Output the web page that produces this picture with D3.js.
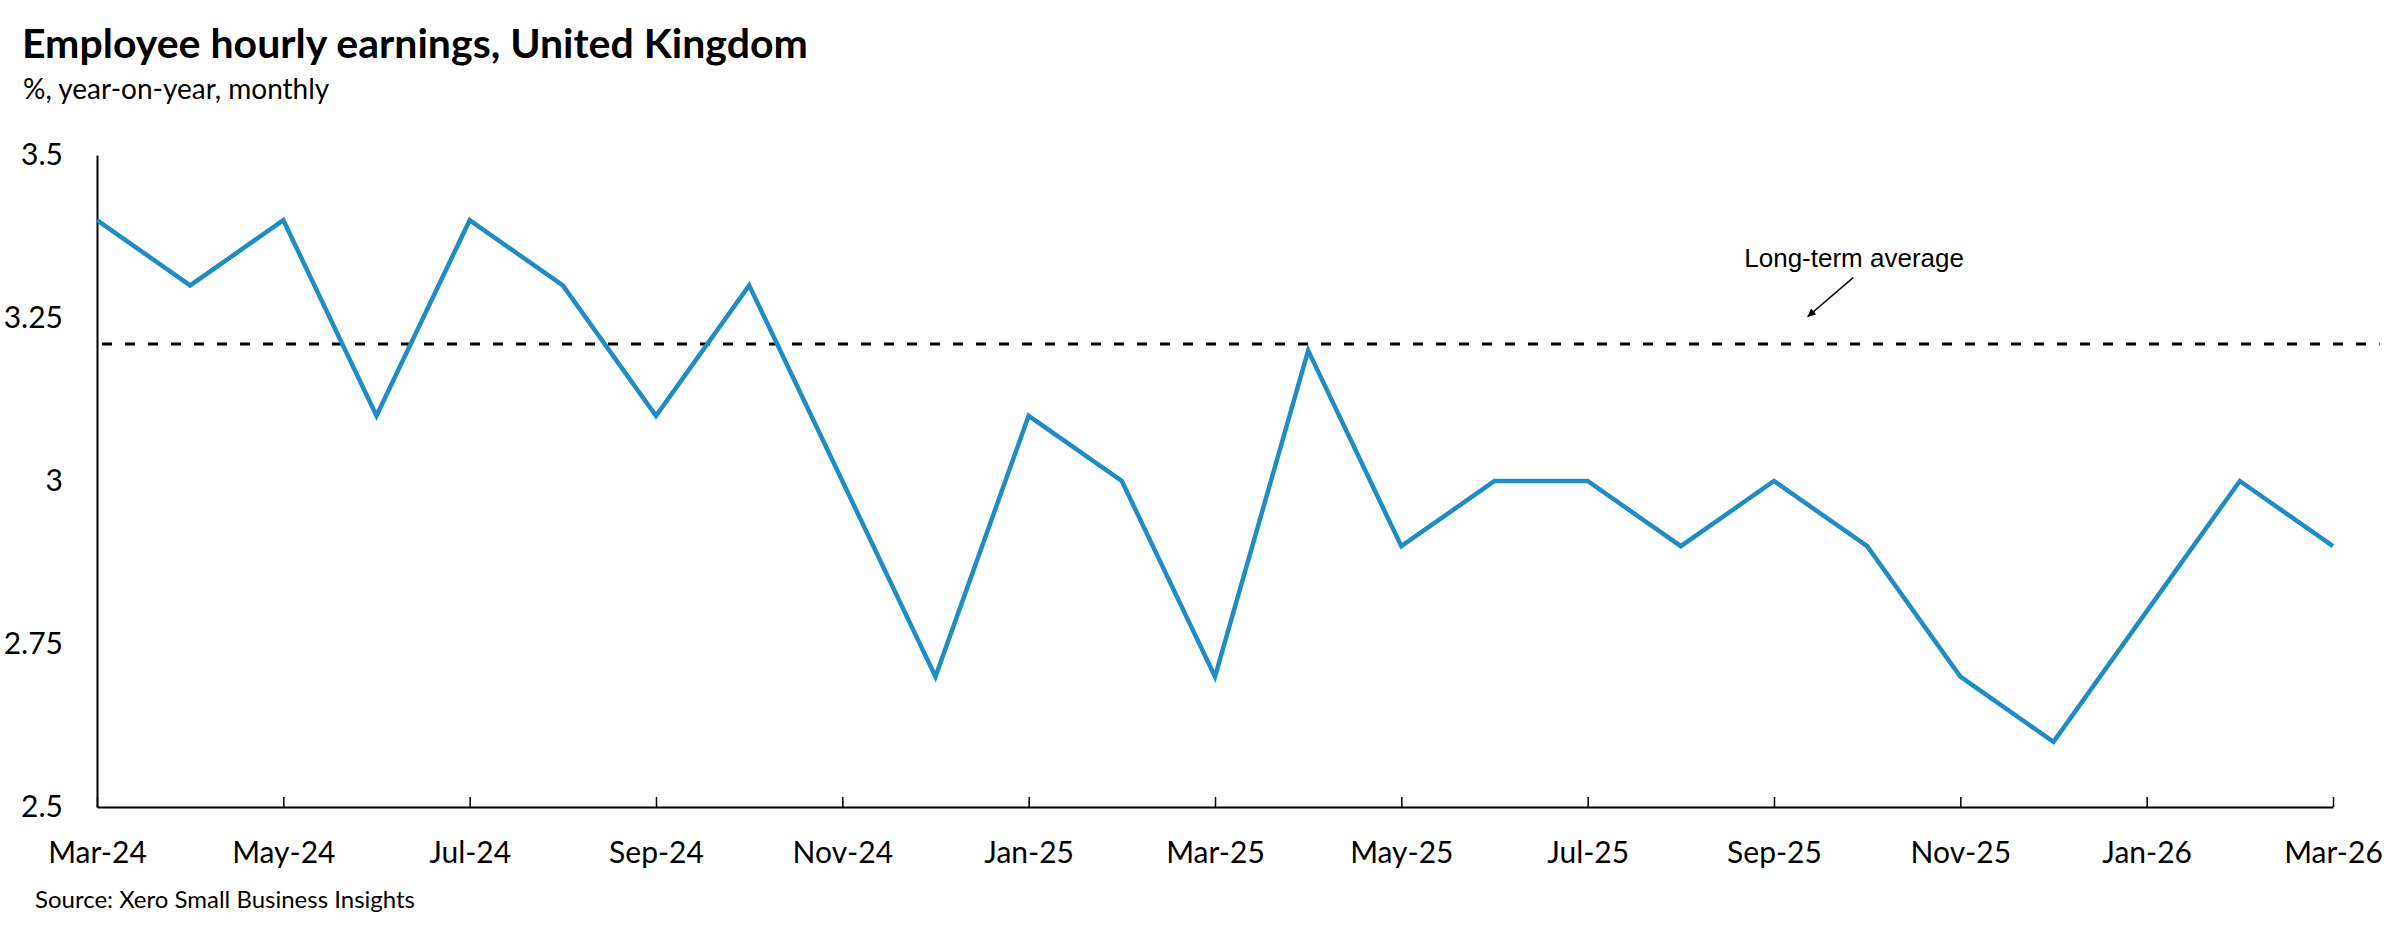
<!DOCTYPE html>
<html>
<head>
<meta charset="utf-8">
<script src="https://cdn.jsdelivr.net/npm/d3@7"></script>
<style>
  body { margin: 0; background: #fff; }
  .axis text { font-family: Lato, sans-serif; font-size: 30px; fill: #000; }
</style>
</head>
<body>
<div id="canvas"></div>
<script>
// data
var months = ['Mar-24','Apr-24','May-24','Jun-24','Jul-24','Aug-24','Sep-24','Oct-24','Nov-24','Dec-24',
              'Jan-25','Feb-25','Mar-25','Apr-25','May-25','Jun-25','Jul-25','Aug-25','Sep-25','Oct-25',
              'Nov-25','Dec-25','Jan-26','Feb-26','Mar-26'];
var earnings = [3.4,3.3,3.4,3.1,3.4,3.3,3.1,3.3,3.0,2.7,
                3.1,3.0,2.7,3.2,2.9,3.0,3.0,2.9,3.0,2.9,
                2.7,2.6,2.8,3.0,2.9];
var longTermAvg = 3.21;
var yTicks = [2.5, 2.75, 3, 3.25, 3.5];
var xTickLabels = months.filter(function(d, i){ return i % 2 === 0; });

var W = 2400, H = 934;
var m = {t:155, r:67, b:127, l:97};

var svg = d3.select('#canvas').append('svg')
    .attr('width', W).attr('height', H);

var x = d3.scalePoint().domain(months).range([m.l, W - m.r]);
var step = x.step();
var y = d3.scaleLinear().domain([2.5, 3.5]).range([H - m.b, m.t]);

// titles
svg.append('text').attr('x', 22).attr('y', 58)
    .style('font-family', 'Lato, sans-serif').style('font-weight', 'bold')
    .style('font-size', '41px').text('Employee hourly earnings, United Kingdom');
svg.append('text').attr('x', 23).attr('y', 99)
    .style('font-family', 'Lato, sans-serif')
    .style('font-size', '28px').text('%, year-on-year, monthly');
svg.append('text').attr('x', 35).attr('y', 908)
    .style('font-family', 'Lato, sans-serif')
    .style('font-size', '24px').text('Source: Xero Small Business Insights');

// y axis
var yAxis = svg.append('g').attr('class', 'axis')
    .attr('transform', 'translate(' + m.l + ',0)')
    .call(d3.axisLeft(y).tickValues(yTicks).tickSize(0).tickPadding(34).tickFormat(function(d){ return d; }));
yAxis.select('.domain').attr('stroke', '#000').attr('stroke-width', 2);

// x axis
var xAxis = svg.append('g').attr('class', 'axis')
    .attr('transform', 'translate(0,' + (H - m.b) + ')')
    .call(d3.axisBottom(x).tickValues(xTickLabels).tickSizeInner(-10).tickSizeOuter(0).tickPadding(36));
xAxis.select('.domain').attr('stroke', '#000').attr('stroke-width', 2);
xAxis.selectAll('.tick line').attr('stroke', '#000').attr('stroke-width', 1.5);
xAxis.selectAll('.tick text').attr('y', 35);

// long-term average dashed line
svg.append('line')
    .attr('x1', m.l + 5).attr('x2', W - m.r + step / 2)
    .attr('y1', y(longTermAvg)).attr('y2', y(longTermAvg))
    .attr('stroke', '#000').attr('stroke-width', 3)
    .attr('stroke-dasharray', '10,13');

// earnings line
var line = d3.line()
    .x(function(d, i){ return x(months[i]); })
    .y(function(d){ return y(d); });

svg.append('path').datum(earnings)
    .attr('d', line)
    .attr('fill', 'none')
    .attr('stroke', '#1f8dc4')
    .attr('stroke-width', 4.5)
    .attr('stroke-linejoin', 'miter');

// annotation
svg.append('defs').append('marker')
    .attr('id', 'arrow').attr('viewBox', '0 0 10 10')
    .attr('refX', 10).attr('refY', 5)
    .attr('markerWidth', 10).attr('markerHeight', 8)
    .attr('markerUnits', 'userSpaceOnUse')
    .attr('orient', 'auto')
    .append('path').attr('d', 'M0,0L10,5L0,10Z').attr('fill', '#000');

var xi = function(i){ return m.l + i * step; };
svg.append('line')
    .attr('x1', xi(18.85)).attr('y1', y(3.312))
    .attr('x2', xi(18.36)).attr('y2', y(3.252))
    .attr('stroke', '#000').attr('stroke-width', 1.5)
    .attr('marker-end', 'url(#arrow)');
svg.append('text')
    .attr('x', xi(18.86)).attr('y', y(3.328))
    .attr('text-anchor', 'middle')
    .style('font-family', '"Liberation Sans", Arial, sans-serif')
    .style('font-size', '26px')
    .text('Long-term average');
</script>
</body>
</html>
